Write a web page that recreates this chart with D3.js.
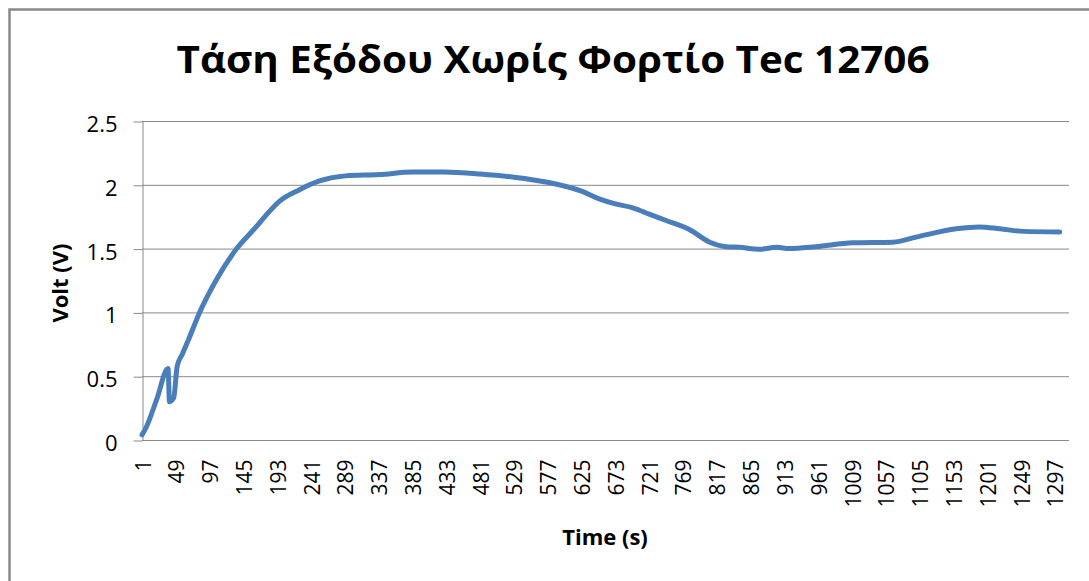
<!doctype html>
<html lang="el">
<head>
  <meta charset="utf-8">
  <title>Τάση Εξόδου Χωρίς Φορτίο Tec 12706</title>
  <script src="https://cdnjs.cloudflare.com/ajax/libs/d3/7.8.5/d3.min.js"></script>
  <style>
    body { margin: 0; background: #fff; }
    svg { display: block; }
    text { font-family: "Open Sans", sans-serif; fill: #000; }
  </style>
</head>
<body>
<svg id="svg" width="1089" height="581"></svg>
<script>

// readings taken off the original chart
var time = [1, 7, 22, 38, 40, 46, 51, 58, 68, 82, 106, 134, 163, 180, 196, 224, 253, 290, 338, 385, 430, 481, 529,
            577, 625, 650, 673, 698, 721, 745, 778, 807, 830, 849, 878, 902, 920, 958, 1010, 1067,
            1100, 1157, 1190, 1219, 1252, 1304];
var volt = [0.04, 0.10, 0.32, 0.56, 0.30, 0.33, 0.58, 0.67, 0.80, 0.99, 1.25, 1.49, 1.67, 1.78, 1.87, 1.96, 2.03, 2.07, 2.08,
            2.10, 2.10, 2.085, 2.06, 2.02, 1.95, 1.89, 1.85, 1.82, 1.77, 1.72, 1.65, 1.55, 1.515, 1.51,
            1.495, 1.51, 1.50, 1.515, 1.545, 1.55, 1.59, 1.655, 1.67, 1.655, 1.635, 1.63];

var xTicks = [1, 49, 97, 145, 193, 241, 289, 337, 385, 433, 481, 529, 577, 625, 673, 721, 769, 817,
              865, 913, 961, 1009, 1057, 1105, 1153, 1201, 1249, 1297];
var yTicks = [0, 0.5, 1, 1.5, 2, 2.5];

var title = 'Τάση Εξόδου Χωρίς Φορτίο Tec 12706';
var xTitle = 'Time (s)';
var yTitle = 'Volt (V)';

var svg = d3.select('#svg');
var grey = '#898989';

// chart frame (runs off the right and bottom of the picture)
svg.append('rect')
  .attr('x', 9.5).attr('y', 9.5)
  .attr('width', 1200).attr('height', 700)
  .attr('fill', 'none')
  .attr('stroke', grey)
  .attr('stroke-width', 2.5);

var x = d3.scaleLinear().domain([1, 1317]).range([142, 1069]);
var y = d3.scaleLinear().domain([0, 2.5]).range([440, 121]);

// gridlines
svg.append('g').selectAll('line')
  .data(yTicks.filter(function(d) { return d > 0; }))
  .enter().append('line')
  .attr('x1', 142).attr('x2', 1069)
  .attr('y1', function(d) { return y(d) + 0.5; })
  .attr('y2', function(d) { return y(d) + 0.5; })
  .attr('stroke', grey)
  .attr('stroke-width', 1);

// y axis
var yAxis = svg.append('g')
  .attr('transform', 'translate(142.5,0.5)')
  .call(d3.axisLeft(y).tickValues(yTicks).tickFormat(d3.format('')).tickSize(9).tickSizeOuter(0).tickPadding(16));
yAxis.select('.domain').attr('stroke', grey);
yAxis.selectAll('.tick line').attr('stroke', grey);
yAxis.selectAll('text')
  .attr('font-family', '"Open Sans", sans-serif')
  .attr('font-size', 22)
  .attr('fill', '#000')
  .attr('dy', '0.45em');

// x axis
var xAxis = svg.append('g')
  .attr('transform', 'translate(0,440.5)')
  .call(d3.axisBottom(x).tickValues(xTicks).tickFormat(d3.format('d')).tickSize(0).tickSizeOuter(0));
xAxis.select('.domain').attr('stroke', grey).attr('d', 'M142,0H1069');
xAxis.selectAll('text')
  .attr('font-family', '"Open Sans", sans-serif')
  .attr('font-size', 21)
  .attr('fill', '#000')
  .attr('transform', 'rotate(-90)')
  .attr('text-anchor', 'end')
  .attr('x', -19)
  .attr('y', 8)
  .attr('dy', 0);

// series
var line = d3.line()
  .x(function(d, i) { return x(time[i]); })
  .y(function(d) { return y(d); })
  .curve(d3.curveMonotoneX);

svg.append('path')
  .datum(volt)
  .attr('d', line)
  .attr('fill', 'none')
  .attr('stroke', '#4a7ebb')
  .attr('stroke-width', 5)
  .attr('stroke-linejoin', 'round')
  .attr('stroke-linecap', 'round');

// titles
svg.append('text')
  .attr('x', 553).attr('y', 73)
  .attr('text-anchor', 'middle')
  .attr('font-size', 38)
  .attr('font-weight', 'bold')
  .attr('textLength', 753)
  .attr('lengthAdjust', 'spacingAndGlyphs')
  .text(title);

svg.append('text')
  .attr('x', 605).attr('y', 545)
  .attr('text-anchor', 'middle')
  .attr('font-size', 22)
  .attr('font-weight', 'bold')
  .text(xTitle);

svg.append('text')
  .attr('transform', 'translate(68,283) rotate(-90)')
  .attr('text-anchor', 'middle')
  .attr('font-size', 22)
  .attr('font-weight', 'bold')
  .text(yTitle);

</script>
</body>
</html>
